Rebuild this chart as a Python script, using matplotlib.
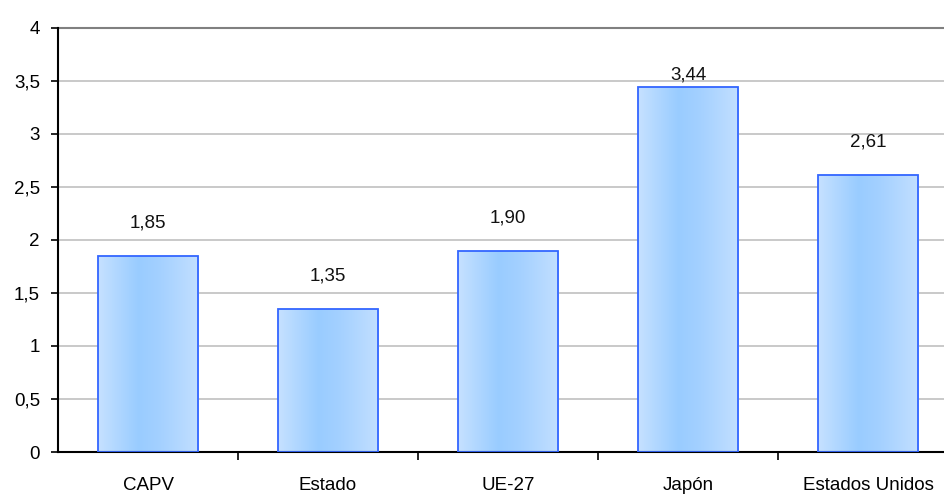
import matplotlib
matplotlib.use("Agg")
import matplotlib.pyplot as plt
import numpy as np
from matplotlib.colors import LinearSegmentedColormap
from matplotlib.ticker import FuncFormatter

categorias = ["CAPV", "Estado", "UE-27", "Japón", "Estados Unidos"]
valores = [1.85, 1.35, 1.90, 3.44, 2.61]
etiquetas = ["1,85", "1,35", "1,90", "3,44", "2,61"]

plt.rcParams["font.family"] = ["Liberation Sans Narrow", "Liberation Sans", "DejaVu Sans"]
tam = 13.5

fig = plt.figure(figsize=(9.44, 4.98), dpi=100)
ax = fig.add_axes([58 / 944, 46 / 498, 886 / 944, 424 / 498])

# degradado horizontal de las barras
degradado = LinearSegmentedColormap.from_list(
    "barra", [(0, "#c6e1ff"), (0.4, "#99ccff"), (0.6, "#a3d0ff"), (1, "#c2dfff")])
franja = np.linspace(0, 1, 256).reshape(1, -1)

ancho = 0.556
x = np.arange(len(categorias))
barras = ax.bar(x, valores, width=ancho, facecolor="none", edgecolor="#3366ff",
                linewidth=1.3, zorder=3)
for b in barras:
    img = ax.imshow(franja, cmap=degradado, aspect="auto", zorder=2,
                    extent=[b.get_x(), b.get_x() + b.get_width(), 0, b.get_height()])
    img.set_clip_path(b)

# posición vertical de cada etiqueta sobre la barra
desplaz = [0.31, 0.31, 0.31, 0.12, 0.31]
for xi, v, t, d in zip(x, valores, etiquetas, desplaz):
    ax.text(xi, v + d, t, ha="center", va="center", fontsize=tam, color="#111111")

ax.set_xlim(-0.5, 4.422)
ax.set_ylim(0, 4)
ax.set_yticks(np.arange(0, 4.01, 0.5))
ax.yaxis.set_major_formatter(FuncFormatter(lambda v, p: f"{v:g}".replace(".", ",")))
ax.set_xticks(np.arange(0.5, 4.5, 1))
ax.set_xticks(x, minor=True)
ax.set_xticklabels([])
ax.set_xticklabels(categorias, minor=True)
ax.tick_params(axis="x", which="major", length=6, width=1.2, direction="out")
ax.tick_params(axis="x", which="minor", length=0, pad=18, labelsize=tam)
ax.tick_params(axis="y", length=5, width=1.2, direction="out", labelsize=tam, pad=8)

ax.grid(axis="y", color="#c0c0c0", linewidth=1.2, zorder=0)
ax.set_axisbelow(True)
ax.axhline(4, color="#808080", linewidth=1.5, zorder=1, clip_on=False)
for s in ["top", "right"]:
    ax.spines[s].set_visible(False)
ax.spines["left"].set_linewidth(1.5)
ax.spines["bottom"].set_linewidth(1.5)

fig.savefig("out.png", dpi=100)
